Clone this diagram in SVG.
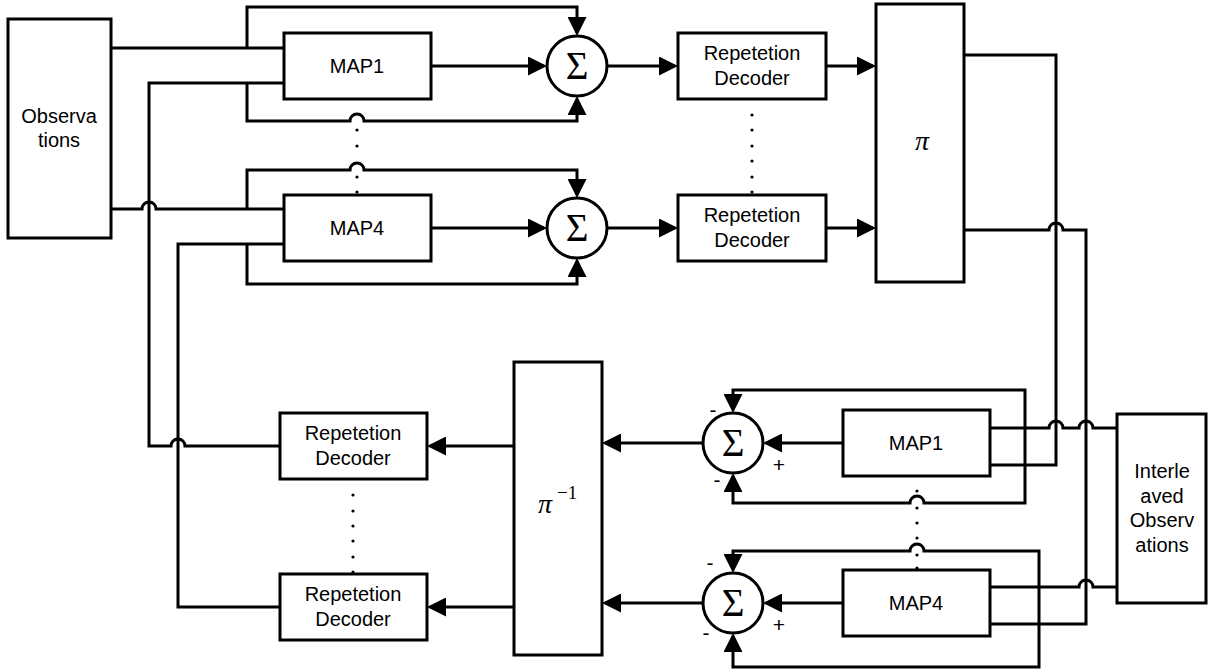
<svg xmlns="http://www.w3.org/2000/svg" width="1208" height="672" viewBox="0 0 1208 672">
  <style>
    .box { fill: #fff; stroke: #000; stroke-width: 3; }
    .sum { fill: #fff; stroke: #000; stroke-width: 3; }
    .wire { fill: none; stroke: #000; stroke-width: 3; }
    .arr { marker-end: url(#head); }
    .lbl { font-family: "Liberation Sans", Arial, sans-serif; font-size: 20px; fill: #000; text-anchor: middle; }
    .sig { font-family: "Liberation Serif", "Times New Roman", serif; font-size: 39px; fill: #000; text-anchor: middle; }
    .pi { font-family: "Liberation Serif", "Times New Roman", serif; font-style: italic; font-size: 28px; fill: #000; }
    .sup { font-family: "Liberation Serif", "Times New Roman", serif; font-size: 19px; fill: #000; }
    .sgn { font-family: "Liberation Sans", Arial, sans-serif; font-size: 21px; fill: #000; text-anchor: middle; }
    .dot { fill: #000; }
  </style>
  <defs>
    <marker id="head" markerUnits="userSpaceOnUse" markerWidth="19" markerHeight="19" refX="16" refY="9.5" orient="auto">
      <path d="M0,0 L19,9.5 L0,19 z" fill="#000"/>
    </marker>
  </defs>

  <!-- connectors -->
  <g id="connectors">
    <!-- upper half: observations to MAP detectors and adders -->
    <path class="wire" d="M111 48 H284"/>
    <path class="wire arr" d="M247 48 V7 H577 V33"/>
    <path class="wire" d="M284 83 H149 V446 H171 A7 7 0 0 1 185 446 H280"/>
    <path class="wire arr" d="M247 83 V121 H350 A7 7 0 0 1 364 121 H577 V99"/>
    <path class="wire" d="M111 209 H142 A7 7 0 0 1 156 209 H284"/>
    <path class="wire arr" d="M247 209 V170 H350 A7 7 0 0 1 364 170 H577 V195"/>
    <path class="wire" d="M280 607 H178 V244 H284"/>
    <path class="wire arr" d="M247 244 V284 H577 V261"/>
    <path class="wire arr" d="M431 66 H544"/>
    <path class="wire arr" d="M431 228 H544"/>
    <path class="wire arr" d="M607 66 H675"/>
    <path class="wire arr" d="M607 228 H675"/>
    <path class="wire arr" d="M826 66 H873"/>
    <path class="wire arr" d="M826 228 H873"/>
    <!-- interleaver outputs feeding the lower MAP detectors -->
    <path class="wire" d="M964 55 H1056 V465 H990"/>
    <path class="wire" d="M964 230 H1049 A7 7 0 0 1 1063 230 H1086 V624 H990"/>
    <!-- lower half: interleaved observations, adders, deinterleaver -->
    <path class="wire" d="M1117 428 H1093 A7 7 0 0 0 1079 428 H1063 A7 7 0 0 0 1049 428 H990"/>
    <path class="wire arr" d="M1025 428 V390 H733 V410"/>
    <path class="wire arr" d="M1025 428 V503 H924 A7 7 0 0 0 910 503 H733 V476"/>
    <path class="wire arr" d="M843 443 H766"/>
    <path class="wire arr" d="M703 443 H605"/>
    <path class="wire" d="M1117 587 H1093 A7 7 0 0 0 1079 587 H990"/>
    <path class="wire arr" d="M1039 587 V551 H924 A7 7 0 0 0 910 551 H733 V570"/>
    <path class="wire arr" d="M1039 587 V667 H733 V636"/>
    <path class="wire arr" d="M843 603 H766"/>
    <path class="wire arr" d="M703 603 H605"/>
    <path class="wire arr" d="M514 446 H430"/>
    <path class="wire arr" d="M514 607 H430"/>
  </g>

  <!-- ellipsis dots between repeated branches -->
  <g id="ellipses">
    <circle class="dot" cx="357" cy="130" r="1.6"/>
    <circle class="dot" cx="357" cy="146" r="1.6"/>
    <circle class="dot" cx="357" cy="177" r="1.6"/>
    <circle class="dot" cx="357" cy="192" r="1.6"/>
    <circle class="dot" cx="752" cy="115" r="1.6"/>
    <circle class="dot" cx="752" cy="130" r="1.6"/>
    <circle class="dot" cx="752" cy="146" r="1.6"/>
    <circle class="dot" cx="752" cy="161" r="1.6"/>
    <circle class="dot" cx="752" cy="177" r="1.6"/>
    <circle class="dot" cx="752" cy="192" r="1.6"/>
    <circle class="dot" cx="353" cy="495" r="1.6"/>
    <circle class="dot" cx="353" cy="511" r="1.6"/>
    <circle class="dot" cx="353" cy="526" r="1.6"/>
    <circle class="dot" cx="353" cy="541" r="1.6"/>
    <circle class="dot" cx="353" cy="557" r="1.6"/>
    <circle class="dot" cx="353" cy="572" r="1.6"/>
    <circle class="dot" cx="917" cy="491" r="1.6"/>
    <circle class="dot" cx="917" cy="508" r="1.6"/>
    <circle class="dot" cx="917" cy="523" r="1.6"/>
    <circle class="dot" cx="917" cy="538" r="1.6"/>
    <circle class="dot" cx="917" cy="555" r="1.6"/>
    <circle class="dot" cx="917" cy="568" r="1.6"/>
  </g>

  <g id="observations">
    <rect class="box" x="8" y="19" width="103" height="219"/>
    <text class="lbl" x="59" y="123">Observa</text>
    <text class="lbl" x="59" y="147">tions</text>
  </g>

  <g id="map1-top">
    <rect class="box" x="284" y="33" width="147" height="66"/>
    <text class="lbl" x="357" y="73">MAP1</text>
  </g>
  <g id="map4-top">
    <rect class="box" x="284" y="195" width="147" height="66"/>
    <text class="lbl" x="357" y="235">MAP4</text>
  </g>

  <g id="sum1-top">
    <circle class="sum" cx="577" cy="66" r="30"/>
    <text class="sig" x="577" y="79">Σ</text>
  </g>
  <g id="sum4-top">
    <circle class="sum" cx="577" cy="228" r="30"/>
    <text class="sig" x="577" y="241">Σ</text>
  </g>

  <g id="repdec1-top">
    <rect class="box" x="678" y="33" width="148" height="66"/>
    <text class="lbl" x="752" y="60">Repetetion</text>
    <text class="lbl" x="752" y="85">Decoder</text>
  </g>
  <g id="repdec4-top">
    <rect class="box" x="678" y="195" width="148" height="66"/>
    <text class="lbl" x="752" y="222">Repetetion</text>
    <text class="lbl" x="752" y="247">Decoder</text>
  </g>

  <g id="interleaver">
    <rect class="box" x="876" y="4" width="88" height="278"/>
    <text class="pi" x="915" y="150">π</text>
  </g>

  <g id="deinterleaver">
    <rect class="box" x="514" y="362" width="88" height="293"/>
    <text class="pi" x="538" y="513">π</text>
    <text class="sup" x="557" y="499">−1</text>
  </g>

  <g id="repdec1-bottom">
    <rect class="box" x="280" y="413" width="147" height="66"/>
    <text class="lbl" x="353" y="440">Repetetion</text>
    <text class="lbl" x="353" y="465">Decoder</text>
  </g>
  <g id="repdec4-bottom">
    <rect class="box" x="280" y="574" width="147" height="66"/>
    <text class="lbl" x="353" y="601">Repetetion</text>
    <text class="lbl" x="353" y="626">Decoder</text>
  </g>

  <g id="sum1-bottom">
    <circle class="sum" cx="733" cy="443" r="30"/>
    <text class="sig" x="733" y="456">Σ</text>
    <text class="sgn" x="713" y="417">-</text>
    <text class="sgn" x="779" y="472">+</text>
    <text class="sgn" x="717" y="487">-</text>
  </g>
  <g id="sum4-bottom">
    <circle class="sum" cx="733" cy="603" r="30"/>
    <text class="sig" x="733" y="616">Σ</text>
    <text class="sgn" x="710" y="570">-</text>
    <text class="sgn" x="779" y="632">+</text>
    <text class="sgn" x="706" y="640">-</text>
  </g>

  <g id="map1-bottom">
    <rect class="box" x="843" y="410" width="147" height="66"/>
    <text class="lbl" x="916" y="450">MAP1</text>
  </g>
  <g id="map4-bottom">
    <rect class="box" x="843" y="570" width="147" height="66"/>
    <text class="lbl" x="916" y="610">MAP4</text>
  </g>

  <g id="interleaved-observations">
    <rect class="box" x="1117" y="414" width="89" height="189"/>
    <text class="lbl" x="1162" y="478">Interle</text>
    <text class="lbl" x="1162" y="503">aved</text>
    <text class="lbl" x="1162" y="527">Observ</text>
    <text class="lbl" x="1162" y="552">ations</text>
  </g>
</svg>
